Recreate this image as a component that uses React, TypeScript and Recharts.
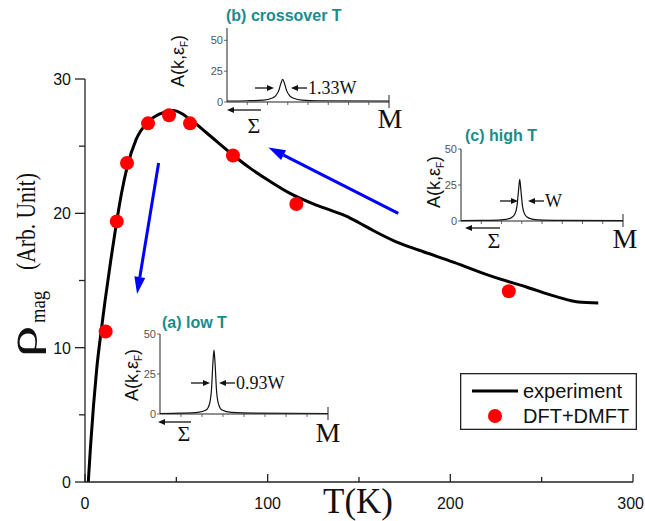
import React from "react";
import { ComposedChart, LineChart, Line, Scatter, XAxis, YAxis, ReferenceLine, Legend } from "recharts";

// experiment curve
const curveT = [1.8, 3, 4.6, 6.4, 9, 11, 14, 17, 20, 23, 28, 34.5, 41, 48.5, 57.5, 66.5, 80.5, 90, 101, 112, 125, 135, 143, 150, 158, 170, 183, 202, 224, 242, 258, 270, 281];
const curveRho = [0, 2.6, 5.6, 8.4, 11.4, 13.5, 16.4, 19.1, 21.5, 23.4, 25.5, 26.8, 27.4, 27.65, 27.0, 26.0, 24.4, 23.4, 22.4, 21.5, 20.7, 20.2, 19.8, 19.3, 18.7, 17.9, 17.25, 16.35, 15.25, 14.5, 13.8, 13.4, 13.33];

// DFT+DMFT points
const dftT = [11.3, 17.4, 23.0, 34.5, 46.0, 57.5, 81.0, 115.7, 232];
const dftRho = [11.2, 19.4, 23.75, 26.7, 27.3, 26.7, 24.3, 20.7, 14.2];

const xTicks = [0, 50, 100, 150, 200, 250, 300];
const yTicks = [0, 5, 10, 15, 20, 25, 30];

// blue arrows (data coords)
const arrowLow = [{ x: 40.3, y: 23.75 }, { x: 28.5, y: 14.0 }];
const arrowHigh = [{ x: 171.5, y: 20.0 }, { x: 100.4, y: 24.9 }];

// inset spectral functions A(k, eF)
const insetK = [0, 1, 2, 3, 4, 5, 6, 7, 8];
const lowK = [0, 1, 1.8, 2.2, 2.35, 2.45, 2.52, 2.57, 2.62, 2.69, 2.79, 2.95, 3.4, 4.5, 8];
const lowA = [0.3, 0.5, 1, 2.5, 6, 15, 32, 40, 32, 15, 6, 2.5, 1, 0.5, 0.3];
const crossK = [0, 1, 1.8, 2.2, 2.4, 2.55, 2.66, 2.75, 2.84, 2.95, 3.1, 3.3, 3.7, 4.5, 8];
const crossA = [0.8, 1, 1.5, 3, 5, 9, 15, 18.4, 15, 9, 5, 3, 1.5, 1, 0.8];
const highK = [0, 1, 2, 2.45, 2.65, 2.76, 2.84, 2.9, 2.96, 3.04, 3.15, 3.35, 3.8, 5, 8];
const highA = [0.2, 0.4, 0.8, 2, 4.5, 10, 21, 29, 21, 10, 4.5, 2, 0.8, 0.4, 0.2];
const insetYTicks = [0, 25, 50];

const curveData = curveT.map((t, i) => ({ t, rho: curveRho[i] }));
const dftData = dftT.map((t, i) => ({ t, rho: dftRho[i] }));

const sans = "'Liberation Sans', Arial, sans-serif";
const serif = "'Liberation Serif', 'Times New Roman', serif";
const teal = "#1a8c8c";

function MainXTick(props: any) {
  const { x, y, payload } = props;
  const major = payload.value % 100 === 0;
  const last = payload.value === 300;
  return (
    <g>
      <line x1={x} x2={x} y1={y} y2={y - (major ? 8 : 5)} stroke="#222" strokeWidth={1.3} />
      {major && (
        <text x={last ? 644 : x} y={y + 27} textAnchor={last ? "end" : "middle"} fontSize={16} fontFamily={sans} fill="#111">
          {payload.value}
        </text>
      )}
    </g>
  );
}

function MainYTick(props: any) {
  const { x, y, payload } = props;
  const major = payload.value % 10 === 0;
  return (
    <g>
      <line x1={x - (major ? 10 : 6)} x2={x} y1={y} y2={y} stroke="#222" strokeWidth={1.3} />
      {major && (
        <text x={x - 14} y={y + 6} textAnchor="end" fontSize={16} fontFamily={sans} fill="#111">
          {payload.value}
        </text>
      )}
    </g>
  );
}

function BlueArrow(props: any) {
  const { x1, y1, x2, y2 } = props;
  const dx = x2 - x1, dy = y2 - y1;
  const len = Math.sqrt(dx * dx + dy * dy);
  const ux = dx / len, uy = dy / len;
  const hl = 17, hw = 5.5;
  const bx = x2 - ux * hl, by = y2 - uy * hl;
  return (
    <g>
      <line x1={x1} y1={y1} x2={bx} y2={by} stroke="#0000ff" strokeWidth={3} />
      <polygon
        points={`${x2},${y2} ${bx - uy * hw},${by + ux * hw} ${bx + uy * hw},${by - ux * hw}`}
        fill="#0000ff"
      />
    </g>
  );
}

function InsetXTick(props: any) {
  const { x, y, payload } = props;
  if (payload.value === 8) return <line x1={x} x2={x} y1={y - 7} y2={y + 6} stroke="#222" strokeWidth={1} />;
  if (payload.value === 0) return <g />;
  return <line x1={x} x2={x} y1={y} y2={y + 3} stroke="#444" strokeWidth={0.8} />;
}

function InsetYTick(props: any) {
  const { x, y, payload } = props;
  return (
    <g>
      <line x1={x - 3} x2={x} y1={y} y2={y} stroke="#444" strokeWidth={0.8} />
      <text x={x - 4} y={y + 4} textAnchor="end" fontSize={11} fontFamily={sans} fill="#555">
        {payload.value}
      </text>
    </g>
  );
}

function Inset(p: { left: number; top: number; width: number; height: number; mt: number; plotH: number; plotW: number; yMax: number; k: number[]; a: number[] }) {
  const data = p.k.map((k, i) => ({ k, a: p.a[i] }));
  return (
    <div style={{ position: "absolute", left: p.left, top: p.top }}>
      <LineChart width={p.width} height={p.height} data={data} margin={{ top: p.mt, right: p.width - 40 - p.plotW, left: 0, bottom: 0 }}>
        <XAxis
          dataKey="k"
          type="number"
          domain={[0, 8]}
          ticks={insetK}
          height={p.height - p.mt - p.plotH}
          tickSize={0}
          tickMargin={0}
          tick={InsetXTick}
          axisLine={{ stroke: "#222", strokeWidth: 1 }}
          interval={0}
        />
        <YAxis
          type="number"
          domain={[0, p.yMax]}
          ticks={insetYTicks}
          width={40}
          tickSize={0}
          tickMargin={0}
          tick={InsetYTick}
          axisLine={{ stroke: "#222", strokeWidth: 1 }}
          interval={0}
        />
        <Line dataKey="a" type="monotone" stroke="#111" strokeWidth={1.2} dot={false} isAnimationActive={false} />
      </LineChart>
    </div>
  );
}

function SmallArrow({ x1, x2, y }: { x1: number; x2: number; y: number }) {
  const dir = x2 > x1 ? 1 : -1;
  return (
    <g>
      <line x1={x1} x2={x2 - dir * 6} y1={y} y2={y} stroke="#111" strokeWidth={1.3} />
      <polygon points={`${x2},${y} ${x2 - dir * 7},${y - 3} ${x2 - dir * 7},${y + 3}`} fill="#111" />
    </g>
  );
}

function InsetLabels({ title, tx, ty, ax, ay, arrowY, r1, r2, l1, l2, width, sigX1, sigX2, sigY, sx, sy, mx, my }: any) {
  return (
    <g>
      <text x={tx} y={ty + 5} fontSize={16} fontWeight="bold" fontFamily={sans} fill={teal}>
        {title}
      </text>
      <text transform={`translate(${ax},${ay}) rotate(-90)`} textAnchor="middle" fontSize={18} fontFamily={sans} fill="#111">
        A(k,ε<tspan fontSize={10} dy={4}>F</tspan>
        <tspan dy={-4}>)</tspan>
      </text>
      <SmallArrow x1={r1} x2={r2} y={arrowY} />
      <SmallArrow x1={l1} x2={l2} y={arrowY} />
      <text x={l1 + 1} y={arrowY + 6} fontSize={18} fontFamily={serif} fill="#111">
        {width}
      </text>
      <SmallArrow x1={sigX1} x2={sigX2} y={sigY} />
      <text x={sx} y={sy + 8} textAnchor="middle" fontSize={22} fontFamily={serif} fill="#111">
        Σ
      </text>
      <text x={mx} y={my + 10} textAnchor="middle" fontSize={28} fontFamily={serif} fill="#111">
        M
      </text>
    </g>
  );
}

function LegendBox() {
  return (
    <svg width={177} height={57} style={{ display: "block" }}>
      <rect x={0.65} y={0.65} width={175.7} height={55.7} fill="#fff" stroke="#222" strokeWidth={1.3} />
      <line x1={12} x2={58} y1={18} y2={18} stroke="#000" strokeWidth={3} />
      <text x={63} y={25} fontSize={20} fontFamily={sans} fill="#111">experiment</text>
      <circle cx={35} cy={43} r={7} fill="#ff0000" />
      <text x={63} y={50} fontSize={20} fontFamily={sans} fill="#111">DFT+DMFT</text>
    </svg>
  );
}

export default function App() {
  return (
    <div style={{ position: "relative", width: 645, height: 521, background: "#fff" }}>
      <style>{"body{margin:0}"}</style>
      <ComposedChart width={645} height={521} margin={{ top: 79, right: 12, left: 0, bottom: 0 }}>
        <XAxis
          dataKey="t"
          type="number"
          domain={[0, 300]}
          ticks={xTicks}
          interval={0}
          height={39}
          tickSize={0}
          tickMargin={0}
          tick={MainXTick}
          axisLine={{ stroke: "#222", strokeWidth: 1.3 }}
        />
        <YAxis
          type="number"
          domain={[0, 30]}
          ticks={yTicks}
          interval={0}
          width={85}
          tickSize={0}
          tickMargin={0}
          tick={MainYTick}
          axisLine={{ stroke: "#222", strokeWidth: 1.3 }}
        />
        <Line data={curveData} dataKey="rho" type="monotone" stroke="#000" strokeWidth={3} dot={false} isAnimationActive={false} legendType="line" name="experiment" />
        <Scatter
          data={dftData}
          dataKey="rho"
          name="DFT+DMFT"
          fill="#ff0000"
          isAnimationActive={false}
          shape={(s: any) => <circle cx={s.cx} cy={s.cy} r={7} fill="#ff0000" />}
        />
        <ReferenceLine segment={arrowLow} shape={BlueArrow} />
        <ReferenceLine segment={arrowHigh} shape={BlueArrow} />
        <Legend
          layout="vertical"
          align="center"
          verticalAlign="middle"
          content={LegendBox}
          wrapperStyle={{ left: 460, top: 373, width: 177, height: 57 }}
        />
      </ComposedChart>

      <Inset left={120} top={314} width={230} height={130} mt={20} plotH={80} plotW={168} yMax={50} k={lowK} a={lowA} />
      <Inset left={187} top={20} width={215} height={100} mt={8} plotH={74} plotW={162} yMax={60} k={crossK} a={crossA} />
      <Inset left={421} top={140} width={215} height={100} mt={9} plotH={72} plotW={162} yMax={50} k={highK} a={highA} />

      <svg width={645} height={521} style={{ position: "absolute", left: 0, top: 0, pointerEvents: "none" }}>
        <text x={358} y={513} textAnchor="middle" fontSize={35} fontFamily={serif} fill="#111">
          T(K)
        </text>
        <text transform="translate(37,341.5) rotate(-90)" textAnchor="middle" fontSize={42} fontFamily={serif} fill="#111" textLength={32} lengthAdjust="spacingAndGlyphs">
          ρ
        </text>
        <text transform="translate(45,307) rotate(-90)" textAnchor="middle" fontSize={22} fontFamily={serif} fill="#111" textLength={32} lengthAdjust="spacingAndGlyphs">
          mag
        </text>
        <text transform="translate(35,221.5) rotate(-90)" textAnchor="middle" fontSize={27} fontFamily={serif} fill="#111" textLength={97} lengthAdjust="spacingAndGlyphs">
          (Arb. Unit)
        </text>

        <InsetLabels title="(a) low T" tx={162} ty={323} ax={138} ay={375} arrowY={383} r1={191} r2={210} l1={235} l2={219} width="0.93W"
          sigX1={191} sigX2={158} sigY={422} sx={184} sy={433} mx={328} my={432} />
        <InsetLabels title="(b) crossover T" tx={226} ty={16} ax={184} ay={61} arrowY={88} r1={255} r2={274} l1={307} l2={291} width="1.33W"
          sigX1={261} sigX2={227} sigY={110} sx={254} sy={125} mx={390} my={118} />
        <InsetLabels title="(c) high T" tx={465} ty={136} ax={440} ay={182} arrowY={201} r1={500} r2={518} l1={544} l2={528} width="W"
          sigX1={500} sigX2={465} sigY={228} sx={494} sy={240} mx={625} my={238} />
      </svg>
    </div>
  );
}
